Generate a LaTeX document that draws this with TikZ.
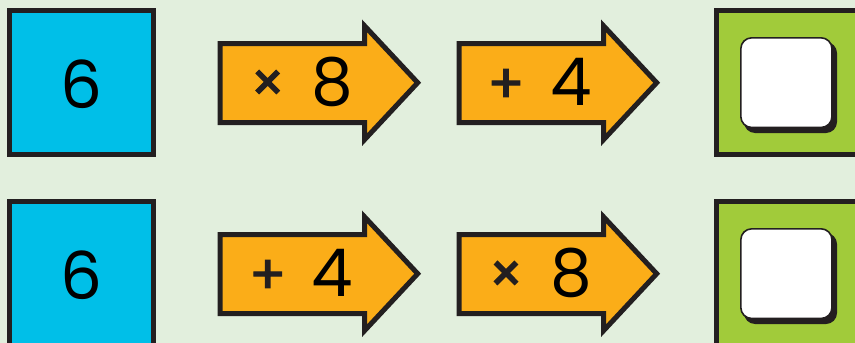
\documentclass[tikz,border=0pt]{standalone}
\usepackage{fontspec}
\setmainfont{Poppins}
\newfontfamily\opfont[FakeBold=2]{Poppins}
\definecolor{bg}{HTML}{E2EFDD}
\definecolor{edge}{HTML}{231F20}
\definecolor{cyanbox}{HTML}{00BFE8}
\definecolor{orangearrow}{HTML}{FBAD18}
\definecolor{greenbox}{HTML}{A1CB3A}
\tikzset{
  startbox/.style={fill=cyanbox, draw=edge, line width=5pt},
  opshape/.style={fill=orangearrow, draw=edge, line width=5pt, line join=miter},
  endbox/.style={fill=greenbox, draw=edge, line width=5pt},
  answerbox/.style={fill=white, draw=edge, line width=1.6pt, rounded corners=11pt},
  answershadow/.style={fill=edge, rounded corners=11pt},
  numtext/.style={anchor=base, inner sep=0pt, font=\fontsize{66}{70}\selectfont, text=black},
  optext/.style={anchor=center, inner sep=0pt, font=\opfont\fontsize{54}{58}\selectfont, text=edge},
}
\newcommand{\oparrow}[2]{% #1 left x, #2 row offset
  \draw[opshape] (#1+2.5,43.5+#2) -- (#1+147,43.5+#2) -- (#1+147,26+#2)
    -- (#1+200,82.7+#2) -- (#1+147,139.5+#2) -- (#1+147,122.5+#2)
    -- (#1+2.5,122.5+#2) -- cycle;
}
\begin{document}
\begin{tikzpicture}[x=1pt,y=-1pt]
\useasboundingbox (0,0) rectangle (855,343);
\clip (0,0) rectangle (855,343);
\fill[bg] (0,0) rectangle (855,343);
\foreach \r/\oa/\ob/\na/\nb [count=\i] in {0/×/+/8/4, 191/+/×/4/8}{
  % start box
  \draw[startbox] (9.5,10.5+\r) rectangle (153.5,154.5+\r);
  \node[numtext] (start\i) at (81.7,108+\r) {6};
  % first operation
  \oparrow{217.7}{\r}
  \node[optext] (opa\i) at (267.7,86+\r) {\oa};
  \node[numtext] (numa\i) at (332.7,105+\r) {\na};
  % second operation
  \oparrow{456.7}{\r}
  \node[optext] (opb\i) at (506,86+\r) {\ob};
  \node[numtext] (numb\i) at (571,105+\r) {\nb};
  % end box
  \draw[endbox] (716.5,10.8+\r) rectangle (880,154.5+\r);
  \fill[answershadow] (744,42+\r) rectangle (837,133+\r);
  \draw[answerbox] (740.8,37.8+\r) rectangle (832,127.5+\r);
  \node[inner sep=0pt] (answer\i) at (786.4,82.6+\r) {};
}
\end{tikzpicture}
\end{document}
